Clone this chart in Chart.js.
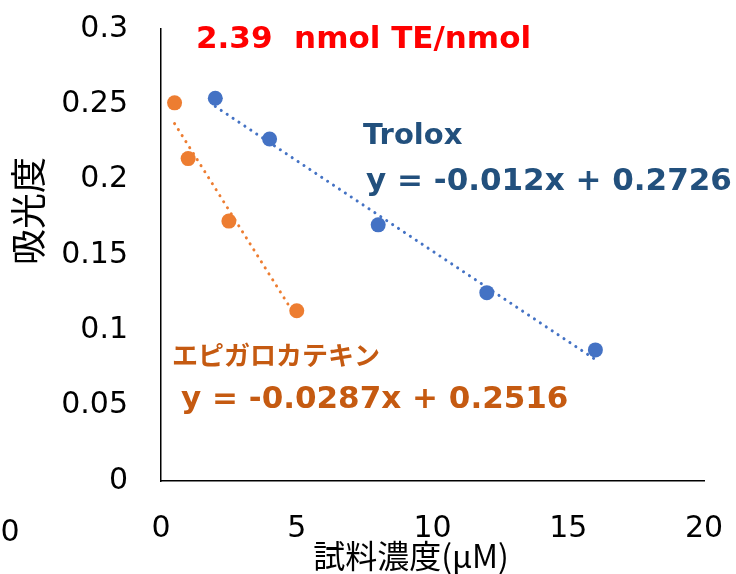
<!DOCTYPE html>
<html>
<head>
<meta charset="utf-8">
<script src="https://cdn.jsdelivr.net/npm/chart.js@4.4.0/dist/chart.umd.min.js"></script>
<style>
  html, body { margin: 0; padding: 0; background: #ffffff; }
  #wrap { width: 736px; height: 574px; }
</style>
</head>
<body>
<div id="wrap"><canvas id="c" width="736" height="574"></canvas></div>
<script>
// ---- data ----
const troloxX = [2, 4, 8, 12, 16];
const troloxY = [0.254, 0.227, 0.170, 0.125, 0.087];
const egcX = [0.5, 1, 2.5, 5];
const egcY = [0.251, 0.214, 0.1725, 0.113];
// trendline end points (from the displayed equations)
const troloxTrendX = [2, 16];
const troloxTrendY = [0.2486, 0.0806];
const egcTrendX = [0.5, 5];
const egcTrendY = [0.23725, 0.1081];
const xTicks = [0, 5, 10, 15, 20];
const yTicks = [0, 0.05, 0.1, 0.15, 0.2, 0.25, 0.3];
const labels = {
  title: '2.39  nmol TE/nmol',
  trolox: 'Trolox',
  troloxEq: 'y = -0.012x + 0.2726',
  egc: 'エピガロカテキン',
  egcEq: 'y = -0.0287x + 0.2516',
  xTitle: '試料濃度(μM)',
  yTitle: '吸光度'
};

const toPts = (xs, ys) => xs.map((x, i) => ({ x: x, y: ys[i] }));

const BLUE = '#4472C4';
const ORANGE = '#ED7D31';
const LATIN = '"DejaVu Sans", Verdana, sans-serif';
const CJK = '"Noto Sans CJK JP", sans-serif';

const textPlugin = {
  id: 'texts',
  afterDraw(chart) {
    const ctx = chart.ctx;
    ctx.save();
    ctx.textAlign = 'left';
    ctx.textBaseline = 'alphabetic';
    ctx.fillStyle = '#FF0000';
    ctx.font = 'bold 31px ' + LATIN;
    ctx.fillText(labels.title, 196, 48);
    ctx.fillStyle = '#22507D';
    ctx.font = 'bold 29px ' + LATIN;
    ctx.fillText(labels.trolox, 363, 144);
    ctx.font = 'bold 31px ' + LATIN;
    ctx.fillText(labels.troloxEq, 366, 190);
    ctx.fillStyle = '#C55A11';
    ctx.font = 'bold 26px ' + CJK;
    ctx.textBaseline = 'middle';
    ctx.fillText(labels.egc, 172, 355);
    ctx.textBaseline = 'alphabetic';
    ctx.font = 'bold 31px ' + LATIN;
    ctx.fillText(labels.egcEq, 181, 408);
    // axis titles
    ctx.fillStyle = '#000000';
    ctx.font = '32px ' + CJK;
    ctx.textAlign = 'center';
    ctx.textBaseline = 'middle';
    ctx.fillText(labels.xTitle, 411, 556);
    ctx.save();
    ctx.translate(28, 211);
    ctx.rotate(-Math.PI / 2);
    ctx.font = '36px ' + CJK;
    ctx.fillText(labels.yTitle, 0, 0);
    ctx.restore();
    // stray "0" label at the far left
    ctx.font = '30px ' + LATIN;
    ctx.fillText('0', 10, 533);
    ctx.restore();
  }
};

function zeroPad(scale) {
  scale.paddingTop = 0;
  scale.paddingBottom = 0;
  scale.paddingLeft = 0;
  scale.paddingRight = 0;
}

new Chart(document.getElementById('c'), {
  type: 'scatter',
  data: {
    datasets: [
      {
        label: 'Trolox trend',
        data: toPts(troloxTrendX, troloxTrendY),
        showLine: true,
        borderColor: BLUE,
        borderWidth: 3,
        borderDash: [0.1, 7],
        borderCapStyle: 'round',
        pointRadius: 0,
        fill: false
      },
      {
        label: 'EGC trend',
        data: toPts(egcTrendX, egcTrendY),
        showLine: true,
        borderColor: ORANGE,
        borderWidth: 3,
        borderDash: [0.1, 7],
        borderCapStyle: 'round',
        pointRadius: 0,
        fill: false
      },
      {
        label: 'Trolox',
        data: toPts(troloxX, troloxY),
        backgroundColor: BLUE,
        borderColor: BLUE,
        pointRadius: 7.5,
        borderWidth: 0
      },
      {
        label: 'EGC',
        data: toPts(egcX, egcY),
        backgroundColor: ORANGE,
        borderColor: ORANGE,
        pointRadius: 7.5,
        borderWidth: 0
      }
    ]
  },
  options: {
    responsive: false,
    animation: false,
    devicePixelRatio: 1,
    layout: { padding: { left: 0, right: 32, top: 29, bottom: 0 } },
    plugins: { legend: { display: false }, tooltip: { enabled: false } },
    scales: {
      x: {
        type: 'linear',
        min: 0, max: 20,
        afterBuildTicks(scale) { scale.ticks = xTicks.map(v => ({ value: v })); },
        afterFit(scale) { scale.height = 93; zeroPad(scale); },
        ticks: {
          font: { family: LATIN, size: 30 },
          color: '#000000',
          padding: 30,
          maxRotation: 0,
          callback: v => String(v)
        },
        grid: { display: false, drawTicks: false },
        border: { display: true, color: '#000000', width: 1.5 }
      },
      y: {
        type: 'linear',
        min: 0, max: 0.3,
        afterBuildTicks(scale) { scale.ticks = yTicks.map(v => ({ value: v })); },
        afterFit(scale) { scale.width = 161; zeroPad(scale); },
        ticks: {
          font: { family: LATIN, size: 30 },
          color: '#000000',
          padding: 33,
          callback: v => String(Math.round(v * 100) / 100)
        },
        grid: { display: false, drawTicks: false },
        border: { display: true, color: '#000000', width: 1.5 }
      }
    }
  },
  plugins: [textPlugin]
});
</script>
</body>
</html>
